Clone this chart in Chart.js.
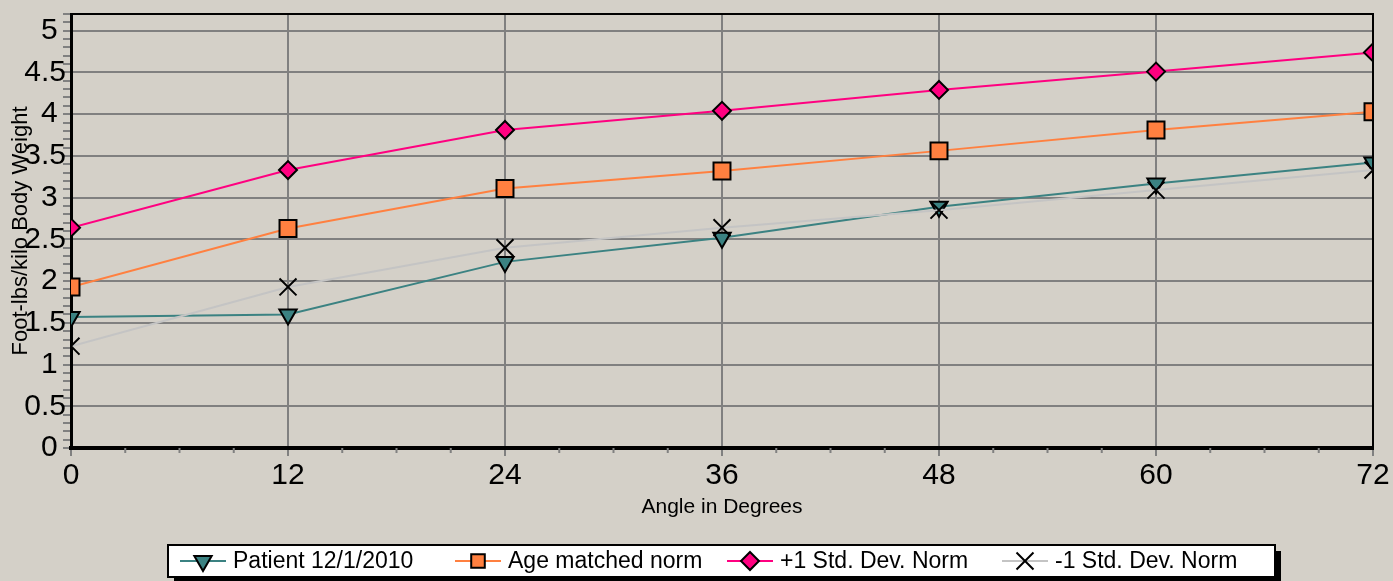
<!DOCTYPE html>
<html>
<head>
<meta charset="utf-8">
<script src="https://cdn.jsdelivr.net/npm/chart.js@4.4.1/dist/chart.umd.min.js"></script>
<style>
  html, body { margin: 0; padding: 0; background: #D4D0C8; }
  canvas { display: block; }
</style>
</head>
<body>
<canvas id="c" width="1393" height="581"></canvas>
<script>
// ---- data ----
const angles = [0, 12, 24, 36, 48, 60, 72];
const patient = [1.57, 1.60, 2.23, 2.52, 2.89, 3.17, 3.42];
const ageNorm = [1.93, 2.63, 3.11, 3.32, 3.56, 3.81, 4.03];
const plusSD = [2.64, 3.33, 3.81, 4.04, 4.29, 4.51, 4.74];
const minusSD = [1.22, 1.93, 2.40, 2.64, 2.85, 3.09, 3.33];
const seriesNames = ['Patient 12/1/2010', 'Age matched norm', '+1 Std. Dev. Norm', '-1 Std. Dev. Norm'];
const xTickLabels = ['0', '12', '24', '36', '48', '60', '72'];
const yTickLabels = ['0', '0.5', '1', '1.5', '2', '2.5', '3', '3.5', '4', '4.5', '5'];
const xTitle = 'Angle in Degrees';
const yTitle = 'Foot-lbs/kilo Body Weight';

const FONT = "'Liberation Sans', Arial, sans-serif";
const toXY = arr => angles.map((a, i) => ({ x: a, y: arr[i] }));

const styles = [
  { color: '#3B8282', shape: 'triangle', rot: 180, r: 10, fill: '#3B8282' },
  { color: '#FF8040', shape: 'rect', rot: 0, r: 12, fill: '#FF8040' },
  { color: '#FF0080', shape: 'rectRot', rot: 0, r: 9, fill: '#FF0080' },
  { color: '#C4C4C4', shape: 'crossRot', rot: 0, r: 12, fill: '#000000' }
];
const seriesData = [patient, ageNorm, plusSD, minusSD];

const datasets = seriesData.map((d, i) => ({
  label: seriesNames[i],
  data: toXY(d),
  borderColor: styles[i].color,
  borderWidth: 2,
  tension: 0,
  pointStyle: styles[i].shape,
  pointRotation: styles[i].rot,
  pointRadius: styles[i].r,
  pointBackgroundColor: styles[i].fill,
  pointBorderColor: '#000000',
  pointBorderWidth: 2,
  clip: 0,
  order: 4 - i
}));

function drawMarker(ctx, st, x, y) {
  ctx.save();
  ctx.fillStyle = st.fill;
  ctx.strokeStyle = '#000';
  ctx.lineWidth = 2;
  ctx.beginPath();
  const r = st.r;
  if (st.shape === 'triangle') {
    ctx.moveTo(x - r * 0.866, y - r * 0.5);
    ctx.lineTo(x + r * 0.866, y - r * 0.5);
    ctx.lineTo(x, y + r);
    ctx.closePath();
    ctx.fill(); ctx.stroke();
  } else if (st.shape === 'rect') {
    const s = r * Math.SQRT1_2 * 0.8;
    ctx.rect(x - s, y - s, 2 * s, 2 * s);
    ctx.fill(); ctx.stroke();
  } else if (st.shape === 'rectRot') {
    ctx.moveTo(x, y - r); ctx.lineTo(x + r, y); ctx.lineTo(x, y + r); ctx.lineTo(x - r, y);
    ctx.closePath();
    ctx.fill(); ctx.stroke();
  } else {
    const s = r * Math.SQRT1_2;
    ctx.moveTo(x - s, y - s); ctx.lineTo(x + s, y + s);
    ctx.moveTo(x + s, y - s); ctx.lineTo(x - s, y + s);
    ctx.stroke();
  }
  ctx.restore();
}

const decor = {
  id: 'decor',
  afterDraw(chart) {
    const { ctx, chartArea: a } = chart;
    const xs = chart.scales.x;
    ctx.save();
    // top & right frame
    ctx.strokeStyle = '#000';
    ctx.lineWidth = 2;
    ctx.beginPath();
    ctx.moveTo(a.left, a.top);
    ctx.lineTo(a.right, a.top);
    ctx.lineTo(a.right, a.bottom);
    ctx.stroke();
    // minor x ticks every 3 degrees
    ctx.strokeStyle = '#808080';
    ctx.lineWidth = 2;
    for (let v = xs.min; v <= xs.max; v += 3) {
      if (v % 12 === 0) continue;
      const px = xs.getPixelForValue(v);
      ctx.beginPath();
      ctx.moveTo(px, a.bottom);
      ctx.lineTo(px, a.bottom + 5);
      ctx.stroke();
    }
    // axis titles
    ctx.fillStyle = '#000';
    ctx.textAlign = 'center';
    ctx.textBaseline = 'middle';
    ctx.font = '21px ' + FONT;
    ctx.fillText(xTitle, (a.left + a.right) / 2, 507);
    ctx.save();
    ctx.translate(21, (a.top + a.bottom) / 2);
    ctx.rotate(-Math.PI / 2);
    ctx.font = '22px ' + FONT;
    ctx.fillText(yTitle, 0, 0);
    ctx.restore();
    // legend box with shadow
    const bx = 168, by = 545, bw = 1107, bh = 32;
    ctx.fillStyle = '#000';
    ctx.fillRect(bx + 6, by + 6, bw, bh);
    ctx.fillStyle = '#fff';
    ctx.fillRect(bx, by, bw, bh);
    ctx.strokeStyle = '#000';
    ctx.lineWidth = 2;
    ctx.strokeRect(bx, by, bw, bh);
    const starts = [180, 455, 727, 1002];
    const ly = by + bh / 2;
    ctx.font = '23px ' + FONT;
    ctx.textAlign = 'left';
    starts.forEach((sx, i) => {
      const st = styles[i];
      ctx.strokeStyle = st.color;
      ctx.lineWidth = 2;
      ctx.beginPath();
      ctx.moveTo(sx, ly); ctx.lineTo(sx + 46, ly);
      ctx.stroke();
      drawMarker(ctx, st, sx + 23, ly);
      ctx.fillStyle = '#000';
      ctx.textBaseline = 'middle';
      ctx.fillText(seriesNames[i], sx + 53, ly + 1);
    });
    ctx.restore();
  }
};

new Chart(document.getElementById('c'), {
  type: 'line',
  data: { datasets },
  plugins: [decor],
  options: {
    responsive: false,
    devicePixelRatio: 1,
    animation: false,
    events: [],
    layout: { padding: { top: 11, right: 20, left: 0, bottom: 0 } },
    plugins: { legend: { display: false }, tooltip: { enabled: false } },
    scales: {
      x: {
        type: 'linear',
        min: 0, max: 72,
        afterFit: s => { s.height = 133; s.paddingLeft = 0; s.paddingRight = 0; },
        grid: { color: '#808080', lineWidth: 2, tickColor: '#808080', tickLength: 8 },
        border: { color: '#000', width: 4 },
        ticks: {
          stepSize: 12, autoSkip: false, maxRotation: 0, padding: 2,
          color: '#000', font: { family: FONT, size: 30 },
          callback: v => xTickLabels[Math.round(v / 12)]
        }
      },
      y: {
        min: 0, max: 5.2,
        afterFit: s => { s.width = 71; s.paddingTop = 0; s.paddingBottom = 0; },
        grid: {
          color: c => (Math.round(c.tick.value * 10) % 5 === 0 ? '#808080' : 'rgba(0,0,0,0)'),
          lineWidth: 2, tickColor: '#808080', tickLength: 8
        },
        border: { color: '#000', width: 3 },
        ticks: {
          stepSize: 0.1, autoSkip: false, maxTicksLimit: 200, padding: -3,
          color: '#000', font: { family: FONT, size: 30 },
          callback: v => {
            const k = Math.round(v * 10);
            if (k % 5 !== 0) return '';
            const lbl = yTickLabels[k / 5];
            return lbl.indexOf('.') < 0 ? lbl + ' ' : lbl;
          }
        }
      }
    }
  }
});
</script>
</body>
</html>
